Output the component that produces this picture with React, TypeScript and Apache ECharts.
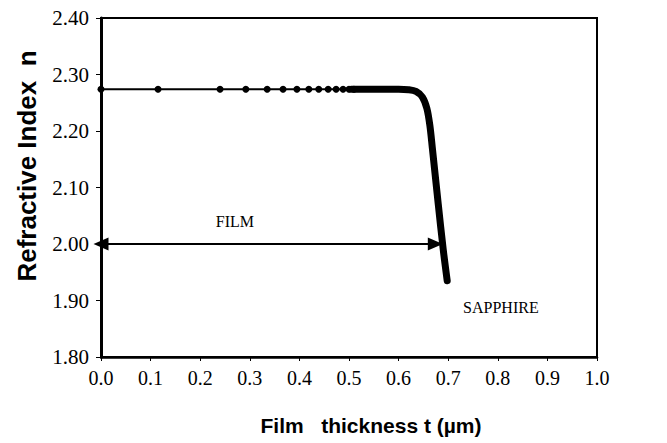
import React, { useEffect, useRef } from "react";
import * as echarts from "echarts";

// Tick labels
const xTicks = [0, 0.1, 0.2, 0.3, 0.4, 0.5, 0.6, 0.7, 0.8, 0.9, 1.0];
const yTicks = [1.8, 1.9, 2.0, 2.1, 2.2, 2.3, 2.4];

// Discrete measured points on the film plateau (t in µm, n)
const dotT = [0.115, 0.24, 0.292, 0.335, 0.367, 0.395, 0.419, 0.439, 0.458, 0.474, 0.488, 0.5, 0.51];
const dotN = [2.274, 2.274, 2.274, 2.274, 2.274, 2.274, 2.274, 2.274, 2.274, 2.274, 2.274, 2.274, 2.274];

// Dense part of the profile (thick curve) down into the sapphire
const curveT = [0.505, 0.55, 0.6, 0.62, 0.635, 0.648, 0.657, 0.663, 0.668, 0.68, 0.69, 0.698];
const curveN = [2.274, 2.274, 2.274, 2.273, 2.27, 2.26, 2.24, 2.21, 2.17, 2.07, 1.99, 1.935];

// Annotations
const filmArrow = { t0: 0.0, t1: 0.674, n: 2.0 };
const filmLabel = { t: 0.27, n: 2.039, text: "FILM" };
const sapphireLabel = { t: 0.73, n: 1.888, text: "SAPPHIRE" };

export default function App() {
  const ref = useRef<HTMLDivElement>(null);
  useEffect(() => {
    document.body.style.margin = "0";
    const chart = echarts.init(ref.current!, null, { renderer: "svg" });
    const dotData = [[0, dotN[0]], ...dotT.map((t, i) => [t, dotN[i]])];
    const curveData = curveT.map((t, i) => [t, curveN[i]]);
    const serif = "'Liberation Serif', 'Times New Roman', serif";
    const sans = "'Liberation Sans', Arial, sans-serif";
    chart.setOption({
      animation: false,
      backgroundColor: "#fff",
      grid: {
        left: 101, right: 70, top: 18, bottom: 86,
        show: true, borderColor: "#000", borderWidth: 2,
      },
      xAxis: {
        type: "value", min: 0, max: 1, interval: 0.1,
        axisLine: { show: true, lineStyle: { color: "#000", width: 2.5 } },
        axisTick: { show: true, inside: false, length: 4, lineStyle: { color: "#000", width: 1 } },
        axisLabel: {
          color: "#000", fontFamily: serif, fontSize: 20, margin: 11,
          formatter: (v: number) => (xTicks.some((x) => Math.abs(x - v) < 1e-6) ? v.toFixed(1) : ""),
        },
        splitLine: { show: false },
      },
      yAxis: {
        type: "value", min: 1.8, max: 2.4, interval: 0.1,
        axisLine: { show: true, lineStyle: { color: "#000", width: 3 } },
        axisTick: { show: true, inside: false, length: 5, lineStyle: { color: "#000", width: 1 } },
        axisLabel: {
          color: "#000", fontFamily: serif, fontSize: 21, margin: 12,
          formatter: (v: number) => (yTicks.some((y) => Math.abs(y - v) < 1e-6) ? v.toFixed(2) : ""),
        },
        splitLine: { show: false },
      },
      graphic: [
        {
          type: "text", x: 27, y: 166, rotation: Math.PI / 2,
          style: {
            text: "Refractive Index  n", fill: "#000",
            font: `bold 26px ${sans}`, textAlign: "center", textVerticalAlign: "middle",
          },
        },
        {
          type: "text", x: 371, y: 425,
          style: {
            text: "Film   thickness t (\u00b5m)", fill: "#000",
            font: `bold 21px ${sans}`, textAlign: "center", textVerticalAlign: "middle",
          },
        },
      ],
      series: [
        {
          type: "line",
          data: dotData,
          symbol: "circle",
          symbolSize: 7,
          showSymbol: true,
          itemStyle: { color: "#000" },
          lineStyle: { color: "#000", width: 2 },
          markLine: {
            silent: true,
            symbol: ["triangle", "triangle"],
            symbolSize: [13, 15],
            label: { show: false },
            lineStyle: { color: "#000", width: 2, type: "solid" },
            data: [[{ coord: [filmArrow.t0, filmArrow.n] }, { coord: [filmArrow.t1, filmArrow.n] }]],
          },
          markPoint: {
            symbol: "circle", symbolSize: 0,
            data: [
              {
                coord: [filmLabel.t, filmLabel.n],
                label: { show: true, formatter: filmLabel.text, color: "#000", fontFamily: serif, fontSize: 16, position: "inside" },
              },
              {
                coord: [sapphireLabel.t, sapphireLabel.n],
                label: { show: true, formatter: sapphireLabel.text, color: "#000", fontFamily: serif, fontSize: 16, position: "right", distance: 0 },
              },
            ],
          },
        },
        {
          type: "line",
          data: curveData,
          smooth: 0.3,
          showSymbol: false,
          symbol: "none",
          lineStyle: { color: "#000", width: 7, cap: "round", join: "round" },
        },
      ],
    });
    return () => chart.dispose();
  }, []);
  return <div ref={ref} style={{ width: 667, height: 443 }} />;
}
